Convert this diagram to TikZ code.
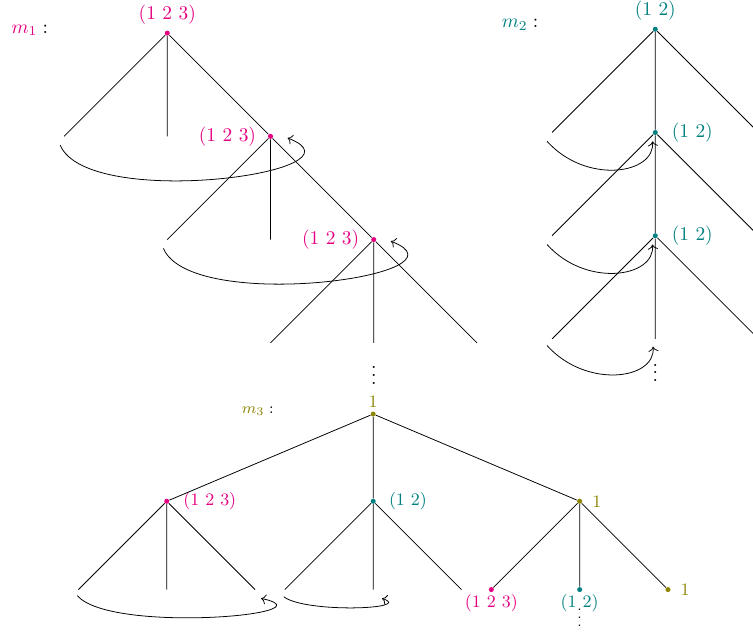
\documentclass[tikz,border=0pt]{standalone}
\usepackage{tikz}
\usetikzlibrary{arrows.meta,positioning,calc}
\definecolor{cyc}{RGB}{230,0,130}
\tikzset{
    vtx/.style={circle, fill, inner sep=0pt, minimum size=2.6pt},
    cycdot/.style={vtx, fill=cyc},
    tealdot/.style={vtx, fill=teal},
    olivedot/.style={vtx, fill=olive},
    cyctxt/.style={text=cyc},
    tealtxt/.style={text=teal},
    olivetxt/.style={text=olive},
    backarrow/.style={->}
}

\begin{document}
\begin{tikzpicture}[on grid, node distance=1.87cm and 1.87cm]
\clip (0,0) rectangle (13.64,11.45);

% m_1
\node (m1) at (0.54,10.9) {$\textcolor{cyc}{m_1}:$};
\node[cycdot] (a1) at (3.03,10.85) {};
\node[cyctxt, above=0.34cm of a1] (a1t) {(1 2 3)};
\coordinate[below left=of a1] (a1l);
\coordinate[below=of a1] (a1m);
\node[cycdot, below right=of a1] (a2) {};
\node[cyctxt, left=0.78cm of a2] (a2t) {(1 2 3)};
\coordinate[below left=of a2] (a2l);
\coordinate[below=of a2] (a2m);
\node[cycdot, below right=of a2] (a3) {};
\node[cyctxt, left=0.78cm of a3] (a3t) {(1 2 3)};
\coordinate[below left=of a3] (a3l);
\coordinate[below=of a3] (a3m);
\coordinate[below right=of a3] (a3r);
\node[below=0.1cm of a3m] (a3d) {$\vdots$};
\draw (a1) -- (a1l) (a1) -- (a1m) (a1) -- (a2);
\draw (a2) -- (a2l) (a2) -- (a2m) (a2) -- (a3);
\draw (a3) -- (a3l) (a3) -- (a3m) (a3) -- (a3r);
\draw[backarrow] ([shift={(-0.07,-0.16)}]a1l) to[out=-67, in=-21, out distance=1.3cm, in distance=1.7cm] ([shift={(0.31,-0.03)}]a2);
\draw[backarrow] ([shift={(-0.07,-0.16)}]a2l) to[out=-67, in=-21, out distance=1.3cm, in distance=1.7cm] ([shift={(0.31,-0.03)}]a3);

% m_2
\node (m2) at (9.42,11.0) {$\textcolor{teal}{m_2}:$};
\node[tealdot] (b1) at (11.87,10.92) {};
\node[tealtxt, above=0.34cm of b1] (b1t) {(1 2)};
\coordinate[below left=of b1] (b1l);
\coordinate[below right=of b1] (b1r);
\node[tealdot, below=of b1] (b2) {};
\node[tealtxt, right=0.67cm of b2] (b2t) {(1 2)};
\coordinate[below left=of b2] (b2l);
\coordinate[below right=of b2] (b2r);
\node[tealdot, below=of b2] (b3) {};
\node[tealtxt, right=0.67cm of b3] (b3t) {(1 2)};
\coordinate[below left=of b3] (b3l);
\coordinate[below=of b3] (b3m);
\coordinate[below right=of b3] (b3r);
\node[below=0.12cm of b3m] (b3d) {$\vdots$};
\draw (b1) -- (b1l) (b1) -- (b2) (b1) -- (b1r);
\draw (b2) -- (b2l) (b2) -- (b3) (b2) -- (b2r);
\draw (b3) -- (b3l) (b3) -- (b3m) (b3) -- (b3r);
\draw[backarrow] ([shift={(-0.09,-0.16)}]b1l) to[out=-48, in=-85, out distance=1.06cm, in distance=0.6cm] ([shift={(-0.05,-0.16)}]b2);
\draw[backarrow] ([shift={(-0.09,-0.16)}]b2l) to[out=-48, in=-85, out distance=1.06cm, in distance=0.6cm] ([shift={(-0.05,-0.16)}]b3);
\draw[backarrow] ([shift={(-0.09,-0.12)}]b3l) to[out=-48, in=-85, out distance=1.06cm, in distance=0.6cm] ([shift={(-0.04,-0.14)}]b3m);

% m_3
\begin{scope}[font=\small]
\node[font=\footnotesize] (m3) at (4.67,4.0) {$\textcolor{olive}{m_3}:$};
\node[olivedot] (c1) at (6.76,3.95) {};
\node[olivetxt, above=0.22cm of c1] (c1t) {1};
\node[cycdot, below left=1.58cm and 3.74cm of c1] (c2) {};
\node[cyctxt, right=0.78cm of c2] (c2t) {(1 2 3)};
\node[tealdot, below=1.58cm of c1] (c3) {};
\node[tealtxt, right=0.63cm of c3] (c3t) {(1 2)};
\node[olivedot, below right=1.58cm and 3.74cm of c1] (c4) {};
\node[olivetxt, right=0.31cm of c4] (c4t) {1};
\draw (c1) -- (c2) (c1) -- (c3) (c1) -- (c4);
\coordinate[below left=1.6cm and 1.6cm of c2] (c2l);
\coordinate[below=1.6cm of c2] (c2m);
\coordinate[below right=1.6cm and 1.6cm of c2] (c2r);
\coordinate[below left=1.6cm and 1.6cm of c3] (c3l);
\coordinate[below=1.6cm of c3] (c3m);
\coordinate[below right=1.6cm and 1.6cm of c3] (c3r);
\node[cycdot, below left=1.6cm and 1.6cm of c4] (d1) {};
\node[cyctxt, below=0.25cm of d1] (d1t) {(1 2 3)};
\node[tealdot, below=1.6cm of c4] (d2) {};
\node[tealtxt, below=0.25cm of d2] (d2t) {(1 2)};
\node[font=\scriptsize, below=0.4cm of d2] (d2d) {$\vdots$};
\node[olivedot, below right=1.6cm and 1.6cm of c4] (d3) {};
\node[olivetxt, right=0.31cm of d3] (d3t) {1};
\draw (c2) -- (c2l) (c2) -- (c2m) (c2) -- (c2r);
\draw (c3) -- (c3l) (c3) -- (c3m) (c3) -- (c3r);
\draw (c4) -- (d1) (c4) -- (d2) (c4) -- (d3);
\draw[backarrow] ([shift={(-0.02,-0.11)}]c2l) to[out=-49, in=-12, out distance=0.92cm, in distance=1.38cm] ([shift={(0.11,-0.16)}]c2r);
\draw[backarrow] ([shift={(-0.02,-0.13)}]c3l) to[out=-37, in=-18, out distance=0.5cm, in distance=0.63cm] ([shift={(0.16,-0.16)}]c3m);
\end{scope}
\end{tikzpicture}
\end{document}
